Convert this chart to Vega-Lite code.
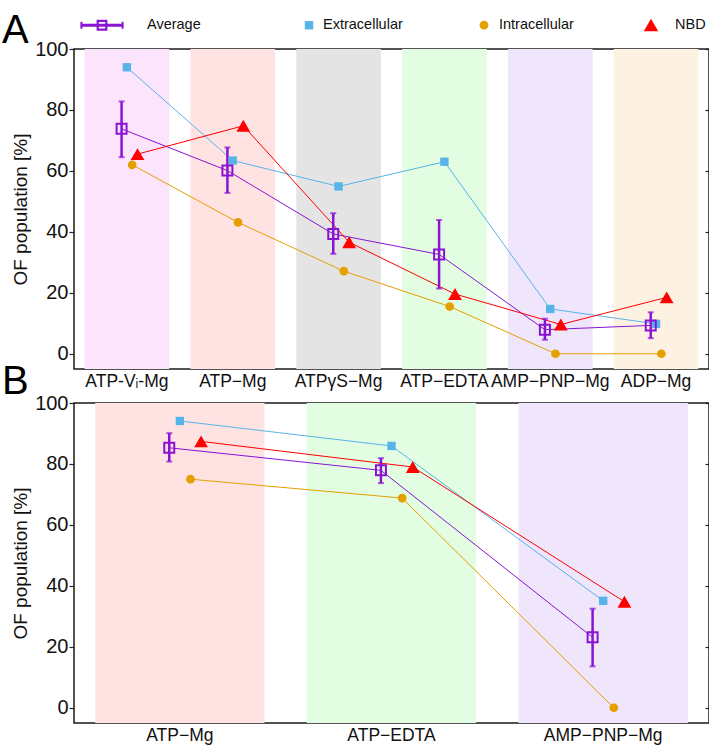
{
  "$schema": "https://vega.github.io/schema/vega-lite/v6.json",
  "padding": {"left": 1, "top": 4, "right": 0, "bottom": 0},
  "background": "white",
  "config": {
    "font": "Liberation Sans",
    "view": {"stroke": "#1a1a1a", "strokeWidth": 1.5},
    "axis": {"grid": false, "domain": false, "labelColor": "#111", "titleColor": "#111", "tickColor": "#222"},
    "axisX": {"ticks": false, "labelAngle": 0, "labelFontSize": 17.5, "labelPadding": 3},
    "title": {"fontSize": 40, "fontWeight": "normal", "anchor": "start", "frame": "group", "color": "#000", "dx": -72, "offset": 0, "baseline": "alphabetic"}
  },
  "datasets": {
    "a": [
      {"cond": "ATP-Vᵢ-Mg", "series": "Average", "value": 73.8, "lo": 64.5, "hi": 82.8},
      {"cond": "ATP−Mg", "series": "Average", "value": 60.1, "lo": 52.8, "hi": 67.7},
      {"cond": "ATPγS−Mg", "series": "Average", "value": 39.3, "lo": 32.8, "hi": 46.1},
      {"cond": "ATP−EDTA", "series": "Average", "value": 32.6, "lo": 21.4, "hi": 43.9},
      {"cond": "AMP−PNP−Mg", "series": "Average", "value": 7.9, "lo": 4.6, "hi": 11.5},
      {"cond": "ADP−Mg", "series": "Average", "value": 9.3, "lo": 5.1, "hi": 13.6},
      {"cond": "ATP-Vᵢ-Mg", "series": "Extracellular", "value": 94.0},
      {"cond": "ATP−Mg", "series": "Extracellular", "value": 63.4},
      {"cond": "ATPγS−Mg", "series": "Extracellular", "value": 54.9},
      {"cond": "ATP−EDTA", "series": "Extracellular", "value": 63.0},
      {"cond": "AMP−PNP−Mg", "series": "Extracellular", "value": 14.7},
      {"cond": "ADP−Mg", "series": "Extracellular", "value": 9.8},
      {"cond": "ATP-Vᵢ-Mg", "series": "Intracellular", "value": 62.0},
      {"cond": "ATP−Mg", "series": "Intracellular", "value": 43.1},
      {"cond": "ATPγS−Mg", "series": "Intracellular", "value": 27.1},
      {"cond": "ATP−EDTA", "series": "Intracellular", "value": 15.5},
      {"cond": "AMP−PNP−Mg", "series": "Intracellular", "value": 0},
      {"cond": "ADP−Mg", "series": "Intracellular", "value": 0},
      {"cond": "ATP-Vᵢ-Mg", "series": "NBD", "value": 65.5},
      {"cond": "ATP−Mg", "series": "NBD", "value": 74.8},
      {"cond": "ATPγS−Mg", "series": "NBD", "value": 36.6},
      {"cond": "ATP−EDTA", "series": "NBD", "value": 19.6},
      {"cond": "AMP−PNP−Mg", "series": "NBD", "value": 9.6},
      {"cond": "ADP−Mg", "series": "NBD", "value": 18.5}
    ],
    "b": [
      {"cond": "ATP−Mg", "series": "Average", "value": 85.3, "lo": 80.8, "hi": 90.1},
      {"cond": "ATP−EDTA", "series": "Average", "value": 77.9, "lo": 73.7, "hi": 81.9},
      {"cond": "AMP−PNP−Mg", "series": "Average", "value": 23.1, "lo": 13.6, "hi": 32.5},
      {"cond": "ATP−Mg", "series": "Extracellular", "value": 94.1},
      {"cond": "ATP−EDTA", "series": "Extracellular", "value": 85.9},
      {"cond": "AMP−PNP−Mg", "series": "Extracellular", "value": 35.1},
      {"cond": "ATP−Mg", "series": "Intracellular", "value": 75.0},
      {"cond": "ATP−EDTA", "series": "Intracellular", "value": 68.8},
      {"cond": "AMP−PNP−Mg", "series": "Intracellular", "value": 0},
      {"cond": "ATP−Mg", "series": "NBD", "value": 87.4},
      {"cond": "ATP−EDTA", "series": "NBD", "value": 79.0},
      {"cond": "AMP−PNP−Mg", "series": "NBD", "value": 34.8}
    ],
    "condA": [
      {"cond": "ATP-Vᵢ-Mg"}, {"cond": "ATP−Mg"}, {"cond": "ATPγS−Mg"},
      {"cond": "ATP−EDTA"}, {"cond": "AMP−PNP−Mg"}, {"cond": "ADP−Mg"}
    ],
    "condB": [
      {"cond": "ATP−Mg"}, {"cond": "ATP−EDTA"}, {"cond": "AMP−PNP−Mg"}
    ]
  },
  "bounds": "flush",
  "spacing": 34,
  "resolve": {
    "scale": {"x": "independent", "xOffset": "independent", "y": "independent", "fill": "independent", "stroke": "independent", "color": "independent", "shape": "independent"},
    "legend": {"color": "independent", "shape": "independent"}
  },
  "vconcat": [
    {
      "width": 635,
      "height": 320,
      "title": {"text": "A", "dy": 50},
      "data": {"name": "a"},
      "encoding": {
        "x": {"field": "cond", "type": "nominal", "title": null,
          "scale": {"type": "band", "domain": ["ATP-Vᵢ-Mg", "ATP−Mg", "ATPγS−Mg", "ATP−EDTA", "AMP−PNP−Mg", "ADP−Mg"], "paddingInner": 0.2, "paddingOuter": 0.1}}
      },
      "resolve": {"axis": {"y": "independent"}},
      "layer": [
        {
          "data": {"name": "condA"},
          "mark": {"type": "bar"},
          "encoding": {
            "y": {"datum": 100, "type": "quantitative", "scale": {"domain": [-5, 100], "nice": false, "zero": false}, "axis": null},
            "y2": {"datum": -5},
            "fill": {"field": "cond", "type": "nominal", "legend": null,
              "scale": {"domain": ["ATP-Vᵢ-Mg", "ATP−Mg", "ATPγS−Mg", "ATP−EDTA", "AMP−PNP−Mg", "ADP−Mg"], "range": ["#fde4fd", "#ffe3e3", "#e4e4e4", "#e3fde3", "#efe6fc", "#fdf2e2"]}}
          }
        },
        {
          "mark": {"type": "line", "strokeWidth": 1},
          "encoding": {
            "xOffset": {"field": "series", "type": "nominal", "scale": {"domain": ["Average", "Extracellular", "Intracellular", "NBD"], "paddingInner": 0, "paddingOuter": 0, "range": [34.35, 55.55]}},
            "y": {"field": "value", "type": "quantitative", "title": "OF population [%]",
              "scale": {"domain": [-5, 100], "nice": false, "zero": false},
              "axis": {"values": [0, 20, 40, 60, 80, 100], "tickSize": 5, "tickWidth": 1.2, "labelFontSize": 20, "labelPadding": 1, "titleFontSize": 19, "titleFontWeight": "normal", "titlePadding": 4}},
            "stroke": {"field": "series", "type": "nominal", "legend": null,
              "scale": {"domain": ["NBD", "Intracellular", "Extracellular", "Average"], "range": ["#ff0000", "#e69f00", "#56b4e9", "#8a14d2"]}},
            "order": {"value": null}
          }
        },
        {
          "transform": [{"filter": "datum.series === 'Average'"}],
          "mark": {"type": "rule", "color": "#8a14d2", "strokeWidth": 2.5},
          "encoding": {
            "xOffset": {"field": "series", "type": "nominal"},
            "y": {"field": "lo", "type": "quantitative", "axis": null},
            "y2": {"field": "hi"}
          }
        },
        {
          "transform": [{"filter": "datum.series === 'Average'"}],
          "mark": {"type": "tick", "color": "#8a14d2", "thickness": 2, "size": 6, "orient": "horizontal"},
          "encoding": {
            "xOffset": {"field": "series", "type": "nominal"},
            "y": {"field": "lo", "type": "quantitative", "axis": null}
          }
        },
        {
          "transform": [{"filter": "datum.series === 'Average'"}],
          "mark": {"type": "tick", "color": "#8a14d2", "thickness": 2, "size": 6, "orient": "horizontal"},
          "encoding": {
            "xOffset": {"field": "series", "type": "nominal"},
            "y": {"field": "hi", "type": "quantitative", "axis": null}
          }
        },
        {
          "transform": [{"filter": "datum.series === 'Extracellular'"}],
          "mark": {"type": "point", "shape": "square", "filled": true, "color": "#56b4e9", "size": 70, "opacity": 1},
          "encoding": {
            "xOffset": {"field": "series", "type": "nominal"},
            "y": {"field": "value", "type": "quantitative", "axis": null}
          }
        },
        {
          "transform": [{"filter": "datum.series === 'Intracellular'"}],
          "mark": {"type": "point", "shape": "circle", "filled": true, "color": "#e69f00", "size": 76, "opacity": 1},
          "encoding": {
            "xOffset": {"field": "series", "type": "nominal"},
            "y": {"field": "value", "type": "quantitative", "axis": null}
          }
        },
        {
          "transform": [{"filter": "datum.series === 'NBD'"}],
          "mark": {"type": "point", "shape": "triangle-up", "filled": true, "color": "#ff0000", "size": 190, "opacity": 1},
          "encoding": {
            "xOffset": {"field": "series", "type": "nominal"},
            "y": {"field": "value", "type": "quantitative", "axis": null}
          }
        },
        {
          "transform": [{"filter": "datum.series === 'Average'"}],
          "mark": {"type": "point", "shape": "square", "filled": false, "color": "#8a14d2", "strokeWidth": 2, "size": 100, "opacity": 1},
          "encoding": {
            "xOffset": {"field": "series", "type": "nominal"},
            "y": {"field": "value", "type": "quantitative", "title": null,
              "axis": {"orient": "right", "values": [0, 20, 40, 60, 80, 100], "tickSize": -4, "tickWidth": 1.2, "labels": false}}
          }
        },
        {
          "mark": {"type": "point", "filled": true, "opacity": 0},
          "encoding": {
            "xOffset": {"field": "series", "type": "nominal"},
            "y": {"field": "value", "type": "quantitative", "axis": null},
            "color": {"field": "series", "type": "nominal",
              "scale": {"domain": ["Average", "Extracellular", "Intracellular", "NBD"], "range": ["#8a14d2", "#56b4e9", "#e69f00", "#ff0000"]},
              "legend": {"title": null, "orient": "none", "legendX": 12, "legendY": -44, "direction": "horizontal", "columns": 4, "gridAlign": "all", "columnPadding": 35, "symbolSize": 1600, "symbolStrokeWidth": 0, "symbolOpacity": 1, "labelFontSize": 14.5, "labelOffset": 21, "labelColor": "#111", "padding": 0}},
            "shape": {"field": "series", "type": "nominal",
              "scale": {"domain": ["Average", "Extracellular", "Intracellular", "NBD"],
                "range": [
                  "M-1.25,-0.07H0.85V0.07H-1.25Z M-0.47,-0.27H0.07V0.27H-0.47Z M-0.36,-0.16V0.16H-0.04V-0.16Z M-1.28,-0.17H-1.18V0.17H-1.28Z M0.78,-0.17H0.88V0.17H0.78Z",
                  "M1.14,-0.21H1.56V0.21H1.14Z",
                  "M1.08,0A0.22,0.22 0 1,0 1.52,0A0.22,0.22 0 1,0 1.08,0Z",
                  "M0.85,-0.33L1.21,0.3L0.49,0.3Z"
                ]},
              "legend": {"title": null, "orient": "none", "legendX": 12, "legendY": -44, "direction": "horizontal", "columns": 4, "gridAlign": "all", "columnPadding": 35, "symbolSize": 1600, "symbolStrokeWidth": 0, "symbolOpacity": 1, "labelFontSize": 14.5, "labelOffset": 21, "labelColor": "#111", "padding": 0}}
          }
        }
      ]
    },
    {
      "width": 635,
      "height": 320,
      "title": {"text": "B", "dy": 13},
      "data": {"name": "b"},
      "encoding": {
        "x": {"field": "cond", "type": "nominal", "title": null,
          "scale": {"type": "band", "domain": ["ATP−Mg", "ATP−EDTA", "AMP−PNP−Mg"], "paddingInner": 0.2, "paddingOuter": 0.1}}
      },
      "resolve": {"axis": {"y": "independent"}},
      "layer": [
        {
          "data": {"name": "condB"},
          "mark": {"type": "bar"},
          "encoding": {
            "y": {"datum": 100, "type": "quantitative", "scale": {"domain": [-5, 100], "nice": false, "zero": false}, "axis": null},
            "y2": {"datum": -5},
            "fill": {"field": "cond", "type": "nominal", "legend": null,
              "scale": {"domain": ["ATP−Mg", "ATP−EDTA", "AMP−PNP−Mg"], "range": ["#ffe3e3", "#e3fde3", "#efe6fc"]}}
          }
        },
        {
          "mark": {"type": "line", "strokeWidth": 1},
          "encoding": {
            "xOffset": {"field": "series", "type": "nominal", "scale": {"domain": ["Average", "Extracellular", "Intracellular", "NBD"], "paddingInner": 0, "paddingOuter": 0, "range": [68.8, 111.2]}},
            "y": {"field": "value", "type": "quantitative", "title": "OF population [%]",
              "scale": {"domain": [-5, 100], "nice": false, "zero": false},
              "axis": {"values": [0, 20, 40, 60, 80, 100], "tickSize": 5, "tickWidth": 1.2, "labelFontSize": 20, "labelPadding": 1, "titleFontSize": 19, "titleFontWeight": "normal", "titlePadding": 4}},
            "stroke": {"field": "series", "type": "nominal", "legend": null,
              "scale": {"domain": ["NBD", "Intracellular", "Extracellular", "Average"], "range": ["#ff0000", "#e69f00", "#56b4e9", "#8a14d2"]}},
            "order": {"value": null}
          }
        },
        {
          "transform": [{"filter": "datum.series === 'Average'"}],
          "mark": {"type": "rule", "color": "#8a14d2", "strokeWidth": 2.5},
          "encoding": {
            "xOffset": {"field": "series", "type": "nominal"},
            "y": {"field": "lo", "type": "quantitative", "axis": null},
            "y2": {"field": "hi"}
          }
        },
        {
          "transform": [{"filter": "datum.series === 'Average'"}],
          "mark": {"type": "tick", "color": "#8a14d2", "thickness": 2, "size": 6, "orient": "horizontal"},
          "encoding": {
            "xOffset": {"field": "series", "type": "nominal"},
            "y": {"field": "lo", "type": "quantitative", "axis": null}
          }
        },
        {
          "transform": [{"filter": "datum.series === 'Average'"}],
          "mark": {"type": "tick", "color": "#8a14d2", "thickness": 2, "size": 6, "orient": "horizontal"},
          "encoding": {
            "xOffset": {"field": "series", "type": "nominal"},
            "y": {"field": "hi", "type": "quantitative", "axis": null}
          }
        },
        {
          "transform": [{"filter": "datum.series === 'Extracellular'"}],
          "mark": {"type": "point", "shape": "square", "filled": true, "color": "#56b4e9", "size": 70, "opacity": 1},
          "encoding": {
            "xOffset": {"field": "series", "type": "nominal"},
            "y": {"field": "value", "type": "quantitative", "axis": null}
          }
        },
        {
          "transform": [{"filter": "datum.series === 'Intracellular'"}],
          "mark": {"type": "point", "shape": "circle", "filled": true, "color": "#e69f00", "size": 76, "opacity": 1},
          "encoding": {
            "xOffset": {"field": "series", "type": "nominal"},
            "y": {"field": "value", "type": "quantitative", "axis": null}
          }
        },
        {
          "transform": [{"filter": "datum.series === 'NBD'"}],
          "mark": {"type": "point", "shape": "triangle-up", "filled": true, "color": "#ff0000", "size": 190, "opacity": 1},
          "encoding": {
            "xOffset": {"field": "series", "type": "nominal"},
            "y": {"field": "value", "type": "quantitative", "axis": null}
          }
        },
        {
          "transform": [{"filter": "datum.series === 'Average'"}],
          "mark": {"type": "point", "shape": "square", "filled": false, "color": "#8a14d2", "strokeWidth": 2, "size": 100, "opacity": 1},
          "encoding": {
            "xOffset": {"field": "series", "type": "nominal"},
            "y": {"field": "value", "type": "quantitative", "title": null,
              "axis": {"orient": "right", "values": [0, 20, 40, 60, 80, 100], "tickSize": -4, "tickWidth": 1.2, "labels": false}}
          }
        }
      ]
    }
  ]
}
